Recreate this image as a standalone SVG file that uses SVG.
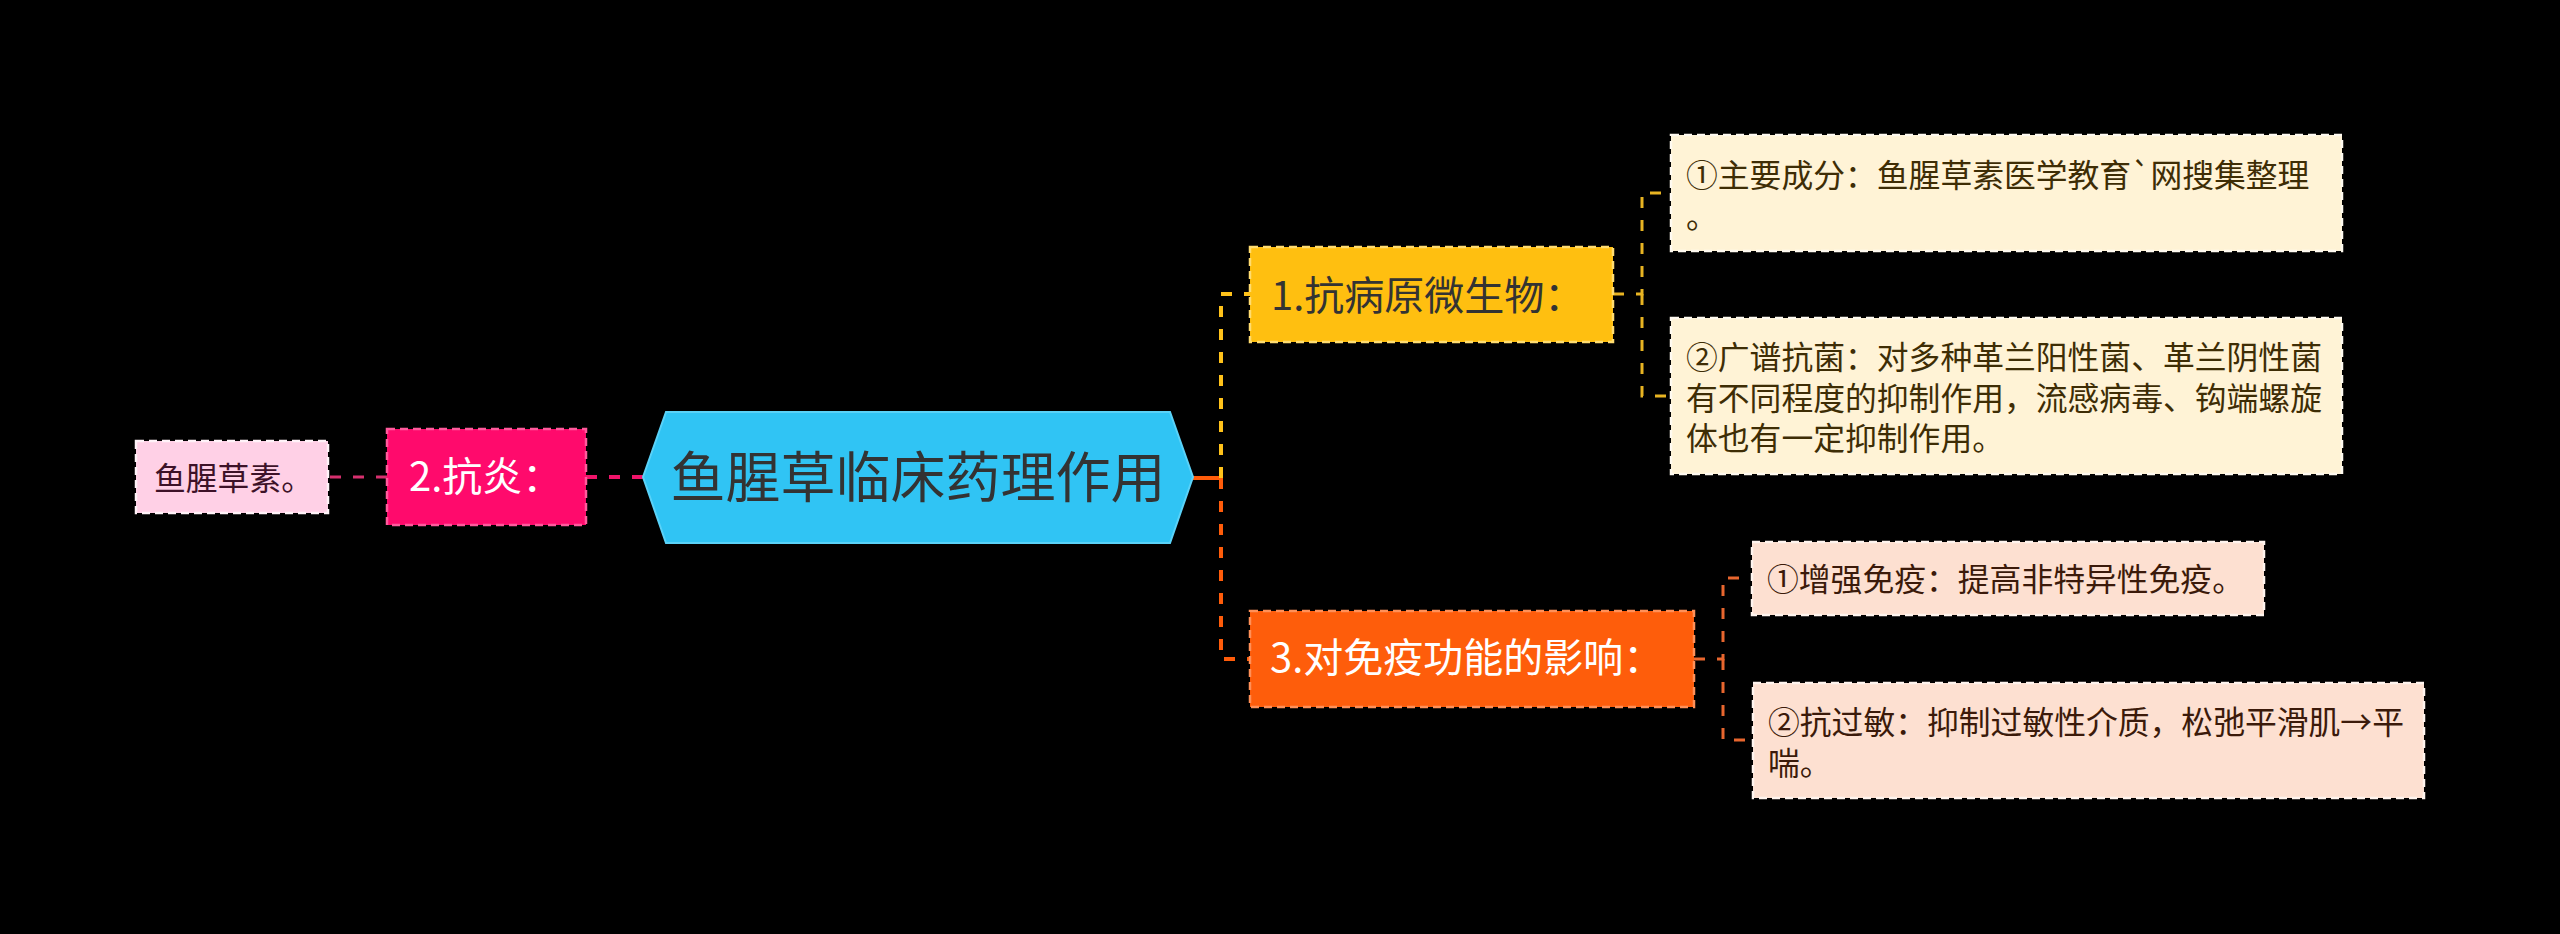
<svg xmlns="http://www.w3.org/2000/svg" width="2560" height="934" viewBox="0 0 2560 934">
<style>
text{font-family:"Noto Sans CJK SC","Noto Sans",sans-serif}
.c{fill:none;stroke-dasharray:11 12}
.box{stroke-dasharray:8 5;stroke-width:2.5}
.leaf{font-size:31.8px}
.br{font-size:40px}
</style>
<rect x="0" y="0" width="2560" height="934" fill="#000"/>
<g id="connectors">
<path class="c" d="M643 477H586" stroke="#f0146a" stroke-width="4"/>
<path class="c" d="M387 477H328" stroke="#d6306e" stroke-width="3"/>
<path d="M1193 478H1221" stroke="#ff5c0a" stroke-width="4" fill="none"/>
<path class="c" d="M1221 478V294H1250" stroke="#ffc21a" stroke-width="4"/>
<path class="c" d="M1221 478V659H1250" stroke="#ff5c0a" stroke-width="4"/>
<path class="c" d="M1613 294H1642V193H1671" stroke="#e8b422" stroke-width="3"/>
<path class="c" d="M1642 294V396H1671" stroke="#e8b422" stroke-width="3"/>
<path class="c" d="M1694 659H1723V578H1752" stroke="#e8662e" stroke-width="3"/>
<path class="c" d="M1723 659V740H1753" stroke="#e8662e" stroke-width="3"/>
</g>
<g id="root">
<polygon points="643,477 666,412 1170,412 1193,477 1170,543 666,543" fill="#30c4f4" stroke="#5ad2f8" stroke-width="2"/>
<text x="918" y="497" font-size="55" fill="#333" text-anchor="middle">鱼腥草临床药理作用</text>
</g>
<g id="n2">
<rect class="box" x="387" y="429" width="199" height="96" fill="#ff0a6c" stroke="#ff5a9c"/>
<text class="br" x="409" y="491" fill="#fff">2.抗炎：</text>
</g>
<g id="n2a">
<rect class="box" x="136" y="441" width="192" height="72" fill="#ffd0e6" stroke="#fff2f8"/>
<text class="leaf" x="154" y="490" fill="#3d1228">鱼腥草素。</text>
</g>
<g id="n1">
<rect class="box" x="1250" y="247" width="363" height="95" fill="#ffbf10" stroke="#ffdc70"/>
<text class="br" x="1271" y="310" fill="#333">1.抗病原微生物：</text>
</g>
<g id="n1a">
<rect class="box" x="1671" y="135" width="671" height="116" fill="#fff3d6" stroke="#fffaf0"/>
<text class="leaf" fill="#3e2d05"><tspan x="1686" y="187">①主要成分：鱼腥草素医学教育`网搜集整理</tspan><tspan x="1686" y="228">。</tspan></text>
</g>
<g id="n1b">
<rect class="box" x="1671" y="318" width="671" height="156" fill="#fff3d6" stroke="#fffaf0"/>
<text class="leaf" fill="#3e2d05"><tspan x="1686" y="369">②广谱抗菌：对多种革兰阳性菌、革兰阴性菌</tspan><tspan x="1686" y="409.5">有不同程度的抑制作用，流感病毒、钩端螺旋</tspan><tspan x="1686" y="450">体也有一定抑制作用。</tspan></text>
</g>
<g id="n3">
<rect class="box" x="1250" y="611" width="444" height="96" fill="#fe5d0b" stroke="#ff9058"/>
<text class="br" x="1270" y="672" fill="#fff">3.对免疫功能的影响：</text>
</g>
<g id="n3a">
<rect class="box" x="1752" y="542" width="512" height="73" fill="#fde0d1" stroke="#fff4ee"/>
<text class="leaf" x="1767" y="591" fill="#3b1a0a">①增强免疫：提高非特异性免疫。</text>
</g>
<g id="n3b">
<rect class="box" x="1753" y="683" width="671" height="115" fill="#fde0d1" stroke="#fff4ee"/>
<text class="leaf" fill="#3b1a0a"><tspan x="1768" y="734">②抗过敏：抑制过敏性介质，松弛平滑肌→平</tspan><tspan x="1768" y="775">喘。</tspan></text>
</g>
</svg>
